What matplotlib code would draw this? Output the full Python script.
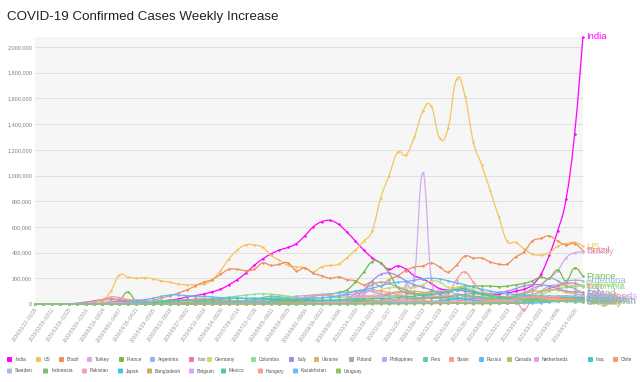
import matplotlib
matplotlib.use("Agg")
import matplotlib.pyplot as plt
from matplotlib.path import Path
from matplotlib.patches import PathPatch, FancyBboxPatch
import numpy as np
import pandas as pd

FONT = ["Liberation Sans", "DejaVu Sans"]
plt.rcParams["font.family"] = FONT

TITLE = "COVID-19 Confirmed Cases Weekly Increase"
FIRST_WEEK = "2020-01-22"
N_WEEKS = 66

COUNTRIES = ["India", "US", "Brazil", "Turkey", "France", "Argentina", "Iran",
             "Germany", "Colombia", "Italy", "Ukraine", "Poland", "Philippines",
             "Peru", "Spain", "Russia", "Canada", "Netherlands", "Iraq", "Chile",
             "Sweden", "Indonesia", "Pakistan", "Japan", "Bangladesh", "Belgium",
             "Mexico", "Hungary", "Kazakhstan", "Uruguay"]

COLORS = ["#ff00ff", "#f5c45e", "#f08e5a", "#d6a8f0", "#72bd4c", "#95b4f0",
          "#f0789a", "#c8dd6e", "#8edca0", "#a98be6", "#d3b56c", "#a8a8a8",
          "#c5a4f2", "#6dcb98", "#f79b9b", "#5eb9fa", "#acc46a", "#eea0e4",
          "#3ec9c0", "#f3a06e", "#a9b6f0", "#7bbd74", "#f49eb8", "#3ec3e5",
          "#c9ac60", "#d9a8f0", "#4ec7a9", "#f6a08a", "#6fb9f6", "#93c462"]

# weekly new cases, thousands (66 weeks)
INDIA = [0, 0, 0, 0, 0, 0, 0.03, 0.1, 0.4, 1, 3.5,
         6, 8.5, 11, 17, 23, 30, 40, 55, 65, 78, 95,
         115, 150, 190, 240, 300, 350, 390, 420, 440, 470, 530,
         600, 640, 650, 620, 560, 490, 420, 360, 318, 270, 296,
         270, 220, 195, 160, 120, 110, 108, 105, 95, 80, 72,
         78, 85, 100, 115, 150, 230, 380, 570, 820, 1320, 2080]
US = [0, 0, 0, 0, 0, 0, 0.3, 3, 30, 100, 225,
      210, 200, 205, 195, 180, 170, 155, 150, 150, 155, 185,
      260, 350, 420, 460, 460, 440, 380, 340, 300, 290, 280,
      250, 290, 300, 310, 360, 420, 490, 570, 825, 1000, 1180,
      1160, 1300, 1500, 1540, 1290, 1370, 1750, 1620, 1260, 1080, 880,
      680, 490, 480, 430, 390, 380, 400, 450, 470, 480, 450]
BRAZIL = [0, 0, 0, 0, 0, 0, 0, 0.05, 0.3, 2, 4,
          9, 13, 20, 30, 45, 65, 85, 110, 140, 170, 190,
          230, 270, 270, 260, 270, 320, 300, 310, 320, 260, 280,
          240, 220, 200, 210, 190, 180, 150, 170, 140, 190, 220,
          260, 288, 296, 319, 288, 249, 303, 373, 358, 358, 327,
          311, 311, 366, 405, 490, 510, 530, 490, 460, 470, 415]
TURKEY = [0, 0, 0, 0, 0, 0, 0, 0, 0.1, 2, 12,
          25, 30, 30, 25, 18, 14, 10, 7, 6, 7, 10,
          10, 8, 7, 7, 7, 7, 7, 8, 9, 10, 11,
          11, 12, 11, 11, 11, 12, 14, 16, 19, 23, 30,
          150, 210, 1020, 200, 110, 95, 80, 60, 50, 45, 45,
          55, 60, 65, 80, 100, 150, 200, 260, 360, 400, 405]
FRANCE = [0, 0, 0, 0, 0, 0, 0.2, 1.5, 5, 15, 25,
          93, 20, 15, 10, 5, 3, 3, 3, 3, 3, 4,
          4, 5, 5, 6, 7, 10, 12, 18, 25, 35, 45,
          60, 70, 75, 90, 110, 170, 250, 330, 318, 240, 130,
          85, 80, 85, 95, 90, 100, 125, 135, 140, 140, 140,
          135, 140, 150, 160, 180, 210, 200, 265, 180, 280, 215]
ARGENTINA = [0, 0, 0, 0, 0, 0, 0, 0, 0.2, 0.5, 0.6,
             0.7, 0.8, 0.8, 1, 1.2, 1.5, 2.5, 3.5, 5, 7, 10,
             13, 17, 22, 26, 33, 40, 45, 50, 55, 60, 65,
             70, 75, 80, 85, 90, 100, 110, 100, 80, 65, 60,
             55, 50, 45, 45, 55, 60, 75, 70, 60, 50, 45,
             45, 50, 55, 60, 70, 100, 140, 150, 175, 185, 180]
IRAN = [0, 0, 0, 0, 0, 0.1, 2, 7, 10, 18, 20,
        17, 12, 10, 8, 9, 10, 14, 14, 18, 20, 18,
        17, 18, 17, 16, 16, 17, 17, 15, 14, 14, 15,
        16, 20, 23, 27, 30, 33, 40, 45, 55, 75, 90,
        92, 85, 60, 50, 45, 40, 40, 43, 45, 48, 50,
        55, 55, 60, 65, 75, 90, 120, 140, 160, 160, 140]
GERMANY = [0, 0, 0, 0, 0, 0.3, 1, 6, 20, 35, 40,
           35, 25, 15, 10, 8, 6, 5, 4, 3, 3, 3,
           5, 3, 3, 3, 3, 4, 5, 8, 9, 9, 9,
           9, 10, 12, 14, 15, 20, 35, 65, 110, 125, 130,
           125, 130, 150, 180, 170, 130, 130, 140, 110, 85, 60,
           55, 55, 60, 65, 70, 90, 110, 120, 150, 140, 150]
COLOMBIA = [0, 0, 0, 0, 0, 0, 0.1, 0.3, 1, 2, 4,
            5, 6, 7, 8, 10, 14, 18, 25, 30, 35, 40,
            45, 55, 60, 70, 75, 80, 75, 70, 60, 50, 45,
            45, 48, 50, 50, 55, 55, 60, 58, 55, 60, 65,
            70, 75, 80, 90, 95, 110, 120, 110, 90, 70, 50,
            40, 38, 38, 42, 55, 70, 100, 115, 130, 140, 135]
ITALY = [0, 0, 0, 0.1, 1.5, 6, 15, 25, 35, 40, 30,
         28, 25, 20, 15, 10, 6, 5, 4, 3, 2, 1.5,
         1.5, 1.3, 1.5, 1.8, 2, 3, 4, 7, 10, 10, 10,
         12, 12, 13, 15, 25, 50, 110, 180, 230, 240, 220,
         180, 150, 130, 110, 90, 100, 110, 100, 90, 80, 80,
         90, 100, 120, 140, 150, 150, 140, 120, 100, 95, 90]
UKRAINE = [0, 0, 0, 0, 0, 0, 0, 0.1, 0.3, 1, 2,
           3, 3, 3, 3, 3, 3, 4, 5, 5, 6, 6,
           6, 6, 6, 7, 8, 9, 12, 14, 15, 16, 18,
           20, 22, 25, 30, 40, 45, 55, 60, 70, 85, 95,
           100, 100, 90, 80, 70, 50, 40, 35, 30, 30, 35,
           40, 50, 70, 90, 100, 100, 110, 110, 90, 80, 70]
POLAND = [0, 0, 0, 0, 0, 0, 0.1, 0.5, 2, 3, 3,
          3, 2.5, 2.5, 2, 2, 2, 2, 2, 2, 2, 2.5,
          2.5, 2, 2.5, 3, 4, 4, 5, 5, 4, 4, 5,
          7, 10, 13, 20, 40, 80, 110, 150, 170, 160, 130,
          110, 80, 70, 60, 45, 40, 40, 40, 35, 35, 40,
          45, 50, 60, 80, 120, 150, 200, 180, 140, 120, 80]
PHILIPPINES = [0, 0, 0, 0, 0, 0, 0.1, 0.5, 1, 2, 2,
               2, 1.5, 1.5, 1.5, 2, 2, 3, 3, 4, 5, 5,
               8, 10, 12, 15, 25, 30, 35, 25, 25, 20, 20,
               20, 17, 15, 14, 14, 13, 12, 11, 10, 10, 11,
               10, 9, 9, 9, 10, 10, 12, 12, 12, 13, 14,
               18, 25, 35, 50, 60, 60, 60, 60, 60, 60, 55]
PERU = [0, 0, 0, 0, 0, 0, 0, 0.5, 1.5, 3, 5,
        8, 12, 15, 20, 25, 30, 30, 35, 30, 25, 25,
        22, 20, 22, 25, 30, 50, 60, 55, 45, 40, 38,
        30, 25, 20, 20, 18, 16, 15, 14, 13, 12, 12,
        12, 12, 13, 15, 20, 30, 40, 60, 60, 55, 40,
        40, 45, 50, 55, 60, 60, 60, 55, 60, 55, 50]
SPAIN = [0, 0, 0, 0, 0, 0.5, 5, 15, 35, 55, 50,
         35, 30, 25, 15, 10, 5, 4, 3, 3, 3, 3,
         3, 3, 4, 6, 10, 15, 25, 30, 40, 45, 50,
         60, 70, 65, 60, 70, 80, 90, 110, 100, 90, 70,
         60, 50, 50, 60, 60, 80, 190, 250, 170, 100, 80,
         60, 40, 30, -45, 40, 30, 35, 45, 50, 45, 40]
RUSSIA = [0, 0, 0, 0, 0, 0, 0, 0.2, 0.5, 1.5, 5,
          13, 25, 35, 45, 60, 70, 70, 65, 60, 60, 55,
          50, 47, 45, 42, 40, 38, 36, 34, 34, 36, 40,
          45, 50, 55, 65, 80, 100, 110, 125, 140, 160, 170,
          175, 185, 195, 200, 195, 180, 165, 150, 130, 115, 100,
          90, 80, 75, 70, 65, 60, 60, 60, 60, 60, 60]
CANADA = [0, 0, 0, 0, 0, 0, 0.2, 1, 3, 7, 10,
          10, 10, 9, 8, 7, 6, 5, 4, 3, 2.5, 2,
          2, 2, 2, 2, 2.5, 3, 3, 2.5, 2.5, 3, 4,
          5, 7, 9, 12, 15, 16, 17, 20, 25, 30, 35,
          40, 45, 45, 45, 50, 55, 50, 40, 30, 25, 20,
          20, 20, 22, 25, 30, 40, 50, 60, 60, 55, 50]
NETHERLANDS = [0, 0, 0, 0, 0, 0.3, 1, 3, 6, 7, 7,
               6, 6, 5, 4, 3, 2, 1.5, 1, 1, 1, 1,
               1, 1, 1.5, 2, 3, 4, 4, 4, 5, 8, 10,
               12, 16, 20, 25, 40, 55, 65, 60, 40, 35, 35,
               35, 40, 45, 60, 80, 70, 50, 40, 35, 30, 25,
               30, 30, 35, 40, 45, 50, 55, 55, 55, 55, 60]
IRAQ = [0, 0, 0, 0, 0, 0, 0.1, 0.2, 0.3, 0.5, 0.7,
        0.7, 0.5, 0.5, 0.5, 1, 1.5, 3, 6, 10, 15, 15,
        15, 15, 14, 15, 16, 20, 25, 28, 30, 30, 30,
        28, 28, 27, 25, 25, 22, 20, 18, 15, 12, 10,
        8, 7, 6, 6, 6, 6, 5, 6, 6, 8, 15,
        20, 25, 30, 35, 40, 40, 45, 50, 50, 50, 50]
CHILE = [0, 0, 0, 0, 0, 0, 0.1, 0.5, 1.5, 2.5, 3,
         3, 3, 3, 4, 8, 15, 25, 30, 40, 45, 30,
         20, 20, 15, 14, 13, 13, 12, 12, 12, 12, 12,
         11, 11, 11, 10, 10, 10, 10, 10, 10, 10, 10,
         10, 10, 11, 12, 14, 20, 25, 28, 25, 25, 28,
         30, 30, 35, 40, 50, 55, 50, 45, 40, 40, 38]
SWEDEN = [0, 0, 0, 0, 0, 0.3, 0.8, 1, 2, 3, 4,
          4, 4, 4, 4, 4, 4, 4, 5, 5, 5, 6,
          7, 5, 3, 2, 2, 2, 2, 2, 2, 2, 2,
          3, 3, 4, 4, 5, 6, 10, 15, 25, 30, 35,
          35, 35, 40, 45, 45, 40, 40, 35, 25, 20, 20,
          25, 25, 28, 30, 32, 35, 38, 40, 40, 40, 40]
INDONESIA = [0, 0, 0, 0, 0, 0, 0, 0.1, 0.5, 1, 2,
             3, 3, 3, 3, 3, 3, 3, 4, 5, 6, 7,
             8, 9, 10, 11, 12, 13, 14, 15, 17, 20, 24,
             25, 27, 28, 30, 30, 30, 28, 25, 26, 28, 30,
             35, 40, 45, 48, 50, 55, 65, 75, 80, 75, 70,
             60, 50, 40, 40, 40, 35, 35, 35, 35, 38, 38]
PAKISTAN = [0, 0, 0, 0, 0, 0, 0, 0.1, 1, 2, 3,
            3, 3, 4, 5, 7, 10, 15, 25, 35, 40, 42,
            35, 28, 20, 15, 10, 7, 5, 4, 3, 3, 3,
            3, 4, 4, 4, 4, 5, 6, 7, 10, 14, 18,
            20, 20, 20, 18, 16, 14, 14, 12, 10, 9, 8,
            8, 10, 12, 15, 25, 30, 33, 35, 35, 35, 35]
JAPAN = [0, 0, 0, 0, 0, 0.1, 0.2, 0.3, 0.4, 1, 2,
         3, 4, 3, 2, 1, 0.5, 0.3, 0.2, 0.3, 0.3, 0.4,
         1, 2, 4, 5, 6, 8, 9, 7, 5, 4, 3,
         3, 3, 3, 3, 3, 4, 4, 5, 8, 10, 12,
         15, 15, 17, 20, 25, 30, 45, 40, 30, 20, 12,
         10, 8, 7, 7, 8, 10, 15, 20, 25, 30, 35]
BANGLADESH = [0, 0, 0, 0, 0, 0, 0, 0, 0.1, 0.1, 0.2,
              0.5, 2, 2.5, 3, 4, 6, 7, 9, 12, 15, 22,
              25, 25, 25, 22, 20, 18, 16, 14, 12, 12, 11,
              10, 9, 9, 9, 8, 8, 10, 12, 14, 15, 15,
              15, 13, 12, 10, 8, 6, 5, 4, 3, 3, 3,
              4, 5, 8, 12, 20, 35, 45, 45, 40, 30, 20]
BELGIUM = [0, 0, 0, 0, 0, 0.2, 1, 3, 6, 9, 10,
           9, 8, 6, 4, 3, 2, 2, 1.5, 1, 1, 1,
           1, 1.5, 2, 4, 4, 5, 4, 3, 3, 4, 5,
           8, 10, 12, 15, 25, 45, 80, 100, 60, 30, 20,
           15, 14, 13, 13, 14, 15, 15, 14, 15, 16, 17,
           18, 19, 20, 22, 25, 30, 28, 25, 20, 18, 18]
MEXICO = [0, 0, 0, 0, 0, 0, 0.1, 0.3, 1, 2, 3,
          5, 6, 8, 10, 15, 20, 25, 30, 30, 30, 35,
          40, 42, 45, 45, 45, 45, 42, 40, 38, 35, 32,
          30, 30, 30, 30, 35, 40, 40, 40, 42, 45, 50,
          55, 60, 70, 75, 80, 90, 110, 120, 100, 80, 60,
          50, 40, 38, 35, 30, 30, 25, 25, 25, 25, 22]
HUNGARY = [0, 0, 0, 0, 0, 0, 0, 0, 0.1, 0.2, 0.3,
           0.4, 0.4, 0.4, 0.3, 0.3, 0.2, 0.2, 0.1, 0.1, 0.1, 0.1,
           0.1, 0.1, 0.1, 0.2, 0.3, 0.5, 1, 3, 5, 5, 6,
           6, 7, 7, 8, 9, 10, 15, 20, 25, 30, 35,
           35, 30, 28, 20, 15, 12, 10, 10, 10, 12, 15,
           20, 30, 40, 50, 55, 50, 45, 40, 30, 25, 20]
KAZAKHSTAN = [0, 0, 0, 0, 0, 0, 0, 0, 0.1, 0.3, 0.5,
              0.7, 1, 1, 1, 1, 1.5, 2, 3, 4, 5, 8,
              12, 15, 18, 20, 15, 8, 5, 3, 2, 1, 1,
              1, 1, 1, 1, 1, 2, 3, 5, 7, 8, 8,
              7, 7, 7, 6, 5, 5, 5, 5, 6, 6, 7,
              8, 9, 10, 12, 15, 18, 20, 22, 25, 25, 25]
URUGUAY = [0, 0, 0, 0, 0, 0, 0, 0, 0.1, 0.2, 0.1,
           0.1, 0.1, 0, 0, 0, 0, 0, 0, 0, 0, 0,
           0, 0, 0, 0, 0, 0, 0, 0, 0, 0, 0,
           0, 0, 0, 0, 0, 0, 0.1, 0.2, 0.3, 0.5, 1,
           1.5, 2, 3, 3, 3, 4, 5, 5, 4, 4, 5,
           6, 8, 12, 15, 20, 22, 25, 22, 20, 18, 15]

SERIES = [INDIA, US, BRAZIL, TURKEY, FRANCE, ARGENTINA, IRAN, GERMANY, COLOMBIA,
          ITALY, UKRAINE, POLAND, PHILIPPINES, PERU, SPAIN, RUSSIA, CANADA,
          NETHERLANDS, IRAQ, CHILE, SWEDEN, INDONESIA, PAKISTAN, JAPAN,
          BANGLADESH, BELGIUM, MEXICO, HUNGARY, KAZAKHSTAN, URUGUAY]

# legend layout in pixels: icon x per entry, two rows
LEGEND_X = [7, 36, 59, 87, 119, 150, 189, 207, 251, 289, 314, 349, 382, 423,
            449, 479, 507, 534, 588, 613,
            7, 43, 82, 118, 147, 189, 221, 258, 293, 336]
LEGEND_ROW_Y = [359.5, 371]

W, H = 640, 382


def smooth_path(xs, ys, s=0.22):
    """Bezier path through every point (echarts-like smooth line)."""
    n = len(xs)
    verts = [(xs[0], ys[0])]
    codes = [Path.MOVETO]
    for i in range(n - 1):
        a = max(i - 1, 0)
        b = min(i + 2, n - 1)
        c1 = (xs[i] + s * (xs[i + 1] - xs[a]), ys[i] + s * (ys[i + 1] - ys[a]))
        c2 = (xs[i + 1] - s * (xs[b] - xs[i]), ys[i + 1] - s * (ys[b] - ys[i]))
        verts += [c1, c2, (xs[i + 1], ys[i + 1])]
        codes += [Path.CURVE4] * 3
    return Path(verts, codes)


def main():
    weeks = pd.date_range(FIRST_WEEK, periods=N_WEEKS, freq="7D")
    labels = [f"{d:%Y/%m/%d}~{d + pd.Timedelta(days=6):%m/%d}" for d in weeks]
    x = np.arange(N_WEEKS)

    fig = plt.figure(figsize=(W / 100, H / 100), dpi=100)
    ax = fig.add_axes([35 / W, 1 - 304 / H, (583 - 35) / W, (304 - 37) / H])
    ax.set_facecolor("#f6f6f6")
    for sp in ax.spines.values():
        sp.set_visible(False)

    for k, (name, vals, col) in enumerate(zip(COUNTRIES, SERIES, COLORS)):
        assert len(vals) == N_WEEKS, name
        y = np.array(vals, dtype=float) * 1000
        ax.add_patch(PathPatch(smooth_path(x, y), fill=False, edgecolor=col,
                               lw=0.9, zorder=3 + k * 0.01, clip_on=False))
        ax.plot(x, y, "o", color=col, ms=1.8, mew=0, zorder=3 + k * 0.01,
                clip_on=False)
        ax.annotate(name, (x[-1], y[-1]), xytext=(2, 0), textcoords="offset points",
                    color=col, fontsize=6.8, va="center", ha="left",
                    annotation_clip=False)

    ax.set_xlim(0, N_WEEKS - 1)
    ax.set_ylim(0, 2.078e6)
    yt = np.arange(0, 2000001, 200000)
    ax.set_yticks(yt)
    ax.set_yticklabels([f"{v:,}" for v in yt], fontsize=4, color="#808080")
    ax.set_xticks(x[::2])
    ax.set_xticklabels(labels[::2], fontsize=3.6, color="#9a9a9a",
                       rotation=55, ha="right", va="top", rotation_mode="anchor")
    ax.tick_params(length=0, pad=2)
    ax.grid(axis="y", color="#e0e0e0", lw=0.7)
    ax.set_axisbelow(True)

    # overlay in pixel coordinates for title and legend
    ov = fig.add_axes([0, 0, 1, 1], zorder=-1)
    ov.set_xlim(0, W)
    ov.set_ylim(H, 0)
    ov.axis("off")
    ov.text(7, 17, TITLE, fontsize=9.6, color="#222222", va="center", ha="left")
    for k, (name, col) in enumerate(zip(COUNTRIES, COLORS)):
        lx = LEGEND_X[k]
        ly = LEGEND_ROW_Y[0] if k < 20 else LEGEND_ROW_Y[1]
        ov.add_patch(FancyBboxPatch((lx, ly - 2.5), 5, 5,
                                    boxstyle="round,pad=0,rounding_size=1",
                                    fc=col, ec="none"))
        ov.text(lx + 8, ly, name, fontsize=3.5, color="#555555",
                va="center", ha="left")

    fig.savefig("out.png", dpi=100)
    plt.close(fig)


if __name__ == "__main__":
    main()
